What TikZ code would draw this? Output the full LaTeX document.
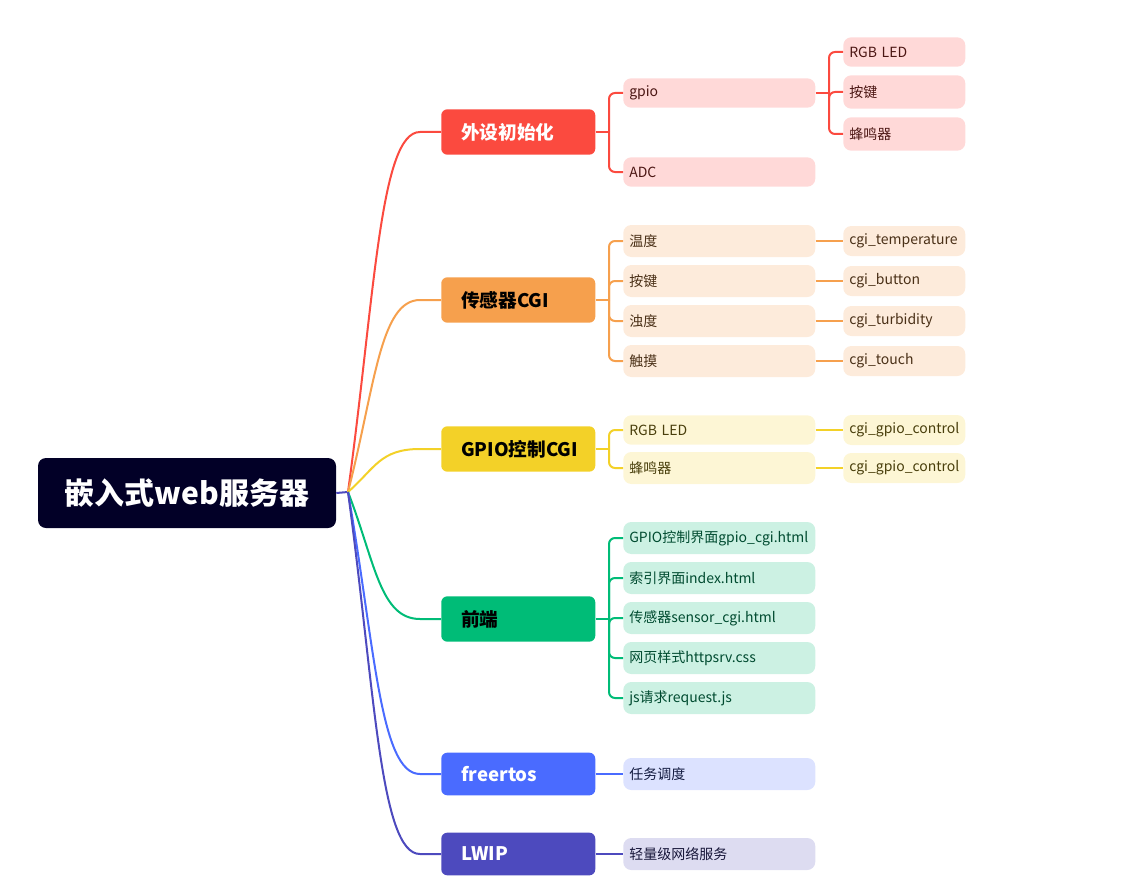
\documentclass[tikz,border=0pt]{standalone}
\usepackage{fontspec}
\setmainfont{Noto Sans CJK SC}
\usetikzlibrary{positioning}
\definecolor{cRoot}  {HTML}{020027}
\definecolor{cRed}   {HTML}{FB4A3F}
\definecolor{cOrg}   {HTML}{F6A04D}
\definecolor{cYel}   {HTML}{F3D128}
\definecolor{cGrn}   {HTML}{00BC77}
\definecolor{cBlu}   {HTML}{4A6BFF}
\definecolor{cInd}   {HTML}{4D4ABE}
\definecolor{fRed}   {HTML}{FFD9D8}
\definecolor{fOrg}   {HTML}{FDEBDB}
\definecolor{fYel}   {HTML}{FDF6D5}
\definecolor{fGrn}   {HTML}{CCF1E3}
\definecolor{fBlu}   {HTML}{DCE2FF}
\definecolor{fInd}   {HTML}{DDDCF1}
\tikzset{
  rootbox/.style={fill=cRoot,text=white,rounded corners=6pt,minimum width=223.5pt,
                  minimum height=52.5pt,font=\fontsize{22.5}{26}\selectfont\bfseries},
  topic/.style  ={rounded corners=4.5pt,anchor=west,align=left,text width=85.5pt,
                  inner xsep=15pt,minimum height=34pt,font=\fontsize{14}{17}\selectfont\bfseries},
  sub/.style    ={rounded corners=6pt,anchor=west,align=left,text width=135pt,
                  inner xsep=4.5pt,minimum height=24pt,font=\fontsize{10.5}{12}\selectfont},
  leaf/.style   ={sub,text width=82.5pt,minimum height=22.5pt},
  sRed/.style   ={fill=fRed,text=cRed!30!black},
  sOrg/.style   ={fill=fOrg,text=cOrg!30!black},
  sYel/.style   ={fill=fYel,text=cYel!30!black},
  sGrn/.style   ={fill=fGrn,text=cGrn!40!black},
  sBlu/.style   ={fill=fBlu,text=cBlu!25!black},
  sInd/.style   ={fill=fInd,text=cInd!30!black},
  branch/.style ={line width=1.5pt},
  rail/.style   ={branch,rounded corners=4.5pt},
}
\begin{document}
\begin{tikzpicture}[x=0.75pt,y=-0.75pt]
\useasboundingbox (0,0) rectangle (1126,888);

\node[rootbox] (root) at (187,493) {嵌入式web服务器};
\coordinate (hub) at (348,492);

% first level
\node[topic,fill=cRed,text=white] (t1) at (441,132) {外设初始化};
\node[topic,fill=cOrg,text=black] (t2) at (441,300) {传感器CGI};
\node[topic,fill=cYel,text=black] (t3) at (441,449) {GPIO控制CGI};
\node[topic,fill=cGrn,text=black] (t4) at (441,619) {前端};
\node[topic,fill=cBlu,text=white,minimum height=32pt] (t5) at (441,774) {freertos};
\node[topic,fill=cInd,text=white,minimum height=32pt] (t6) at (441,854) {LWIP};

% second level
\node[sub,sRed,minimum height=22pt] (s11) at (623,93)  {gpio};
\node[sub,sRed,minimum height=22pt] (s12) at (623,172) {ADC};
\node[sub,sOrg] (s21) at (623,241) {温度};
\node[sub,sOrg] (s22) at (623,281) {按键};
\node[sub,sOrg] (s23) at (623,321) {浊度};
\node[sub,sOrg] (s24) at (623,361) {触摸};
\node[sub,sYel,minimum height=22pt] (s31) at (623,430) {RGB LED};
\node[sub,sYel] (s32) at (623,468) {蜂鸣器};
\node[sub,sGrn] (s41) at (623,538) {GPIO控制界面gpio\_cgi.html};
\node[sub,sGrn] (s42) at (623,578) {索引界面index.html};
\node[sub,sGrn] (s43) at (623,618) {传感器sensor\_cgi.html};
\node[sub,sGrn] (s44) at (623,658) {网页样式httpsrv.css};
\node[sub,sGrn] (s45) at (623,698) {js请求request.js};
\node[sub,sBlu] (s51) at (623,774) {任务调度};
\node[sub,sInd] (s61) at (623,854) {轻量级网络服务};

% third level
\node[leaf,sRed,minimum height=22pt] (l11) at (843,52)  {RGB LED};
\node[leaf,sRed,minimum height=25pt] (l12) at (843,92)  {按键};
\node[leaf,sRed,minimum height=25pt] (l13) at (843,134) {蜂鸣器};
\node[leaf,sOrg] (l21) at (843,241) {cgi\_temperature};
\node[leaf,sOrg] (l22) at (843,281) {cgi\_button};
\node[leaf,sOrg] (l23) at (843,321) {cgi\_turbidity};
\node[leaf,sOrg] (l24) at (843,361) {cgi\_touch};
\node[leaf,sYel] (l31) at (843,430) {cgi\_gpio\_control};
\node[leaf,sYel] (l32) at (843,468) {cgi\_gpio\_control};

% root to topics: steep run, then a bend into the box
\draw[branch,draw=cInd] (root.east) -- (hub);
\foreach \t/\c/\y in {t1/cRed/132,t2/cOrg/300,t3/cYel/449,t4/cGrn/619,t5/cBlu/774,t6/cInd/854}
  \draw[branch,draw=\c] (hub) .. controls (375,{492+(\y-492)*0.55}) and (380,\y) .. (420,\y) -- (\t.west);

% rails to the second and third level
\coordinate (railA) at (609,0);
\coordinate (railB) at (829,0);
\foreach \p/\c/\kids in {t1/cRed/{s11,s12},t2/cOrg/{s21,s22,s23,s24},t3/cYel/{s31,s32},
                         t4/cGrn/{s41,s42,s43,s44,s45},s11/cRed/{l11,l12,l13}}{
  \ifnum\pdfstrcmp{\p}{s11}=0 \coordinate (r) at (\p.east -| railB);
  \else \coordinate (r) at (\p.east -| railA); \fi
  \draw[branch,draw=\c] (\p.east) -- (r);
  \foreach \n in \kids {\draw[rail,draw=\c] (r) |- (\n.west);}
}
\draw[branch,draw=cBlu] (t5.east) -- (s51.west);
\draw[branch,draw=cInd] (t6.east) -- (s61.west);
\foreach \a/\b/\c in {s21/l21/cOrg,s22/l22/cOrg,s23/l23/cOrg,s24/l24/cOrg,s31/l31/cYel,s32/l32/cYel}
  \draw[branch,draw=\c] (\a.east) -- (\b.west);
\end{tikzpicture}
\end{document}
